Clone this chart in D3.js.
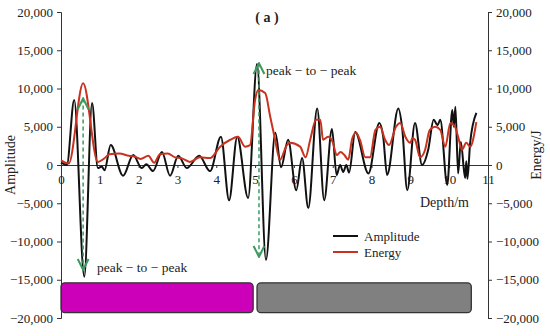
<!DOCTYPE html>
<html>
<head>
<meta charset="utf-8">
<script src="https://cdn.jsdelivr.net/npm/d3@7"></script>
<style>
  body { margin: 0; background: #fff; }
  svg text { font-family: "Liberation Serif", "DejaVu Serif", serif; fill: #222; }
</style>
</head>
<body>
<svg width="550" height="336"></svg>
<script>
// depth (m) and amplitude
var ampDepth = [0, 0.15, 0.34, 0.6, 0.8, 0.95, 1.05, 1.12, 1.28, 1.6, 1.86, 2.08, 2.2, 2.37, 2.6, 2.81, 3.02, 3.24, 3.56, 3.84,
  4.12, 4.33, 4.54, 4.82, 5.05, 5.28, 5.52, 5.67, 5.85, 6.06, 6.21, 6.37, 6.6, 6.78, 6.98, 7.1, 7.19, 7.27, 7.35, 7.42,
  7.58, 7.92, 8.2, 8.3, 8.4, 8.69, 8.79, 8.92, 9.12, 9.3, 9.46, 9.6, 9.7, 9.77, 9.95, 10.08, 10.12, 10.16, 10.23, 10.3,
  10.41, 10.44, 10.47, 10.54, 10.7];
var amplitude = [300, 0, 8500, -14600, 8100, -400, -200, -700, 2600, -1400, 1300, -400, 100, -800, 1700, -1400, 1200, -400, 1200, -800,
  3700, -4600, 3700, -4300, 13200, -12400, 4200, -300, 3300, -3300, 900, -5600, 7400, -4600, 4700, -1300, 0, -900, 0, -1000,
  4300, -1100, 5500, 3700, -1300, 7400, 4800, -3300, 5500, 0, 2000, 5900, 5200, 5900, -2600, 7200, 5000, 7600, -1100, 3000,
  -1700, 500, -1800, 2900, 6800];

var energyDepth = [0, 0.2, 0.57, 0.95, 1.1, 1.25, 1.5, 1.75, 1.9, 2.05, 2.25, 2.4, 2.55, 2.75, 2.94, 3.1, 3.32, 3.58, 3.84,
  4.1, 4.36, 4.56, 4.74, 4.87, 5.0, 5.08, 5.26, 5.39, 5.5, 5.64, 5.82, 5.9, 6.16, 6.3, 6.42, 6.57, 6.68, 6.75, 6.88, 7.0,
  7.1, 7.2, 7.3, 7.4, 7.5, 7.6, 7.7, 7.84, 7.96, 8.1, 8.22, 8.35, 8.45, 8.63, 8.74, 8.87, 9.0, 9.05, 9.12, 9.25, 9.38,
  9.5, 9.64, 9.77, 9.9, 10.03, 10.15, 10.23, 10.33, 10.44, 10.54, 10.7];
var energy = [600, 200, 10700, 400, 800, 1400, 1500, 1200, 1100, 800, 1200, 300, 1400, 1500, 1000, 900, 400, 1000, 900,
  2400, 3300, 3700, 2400, 2600, 8500, 9800, 9400, 6300, 3700, 700, 2600, 2900, 2400, 1000, 3300, 5900, 5900, 3300, 3700, 3000,
  1300, 1700, 1300, 700, 3400, 4200, 3300, 1000, 1000, 4600, 5000, 3300, 2600, 5000, 5500, 3700, 2900, 3500, 3300, 1000, 2000,
  4600, 5000, 4600, 2400, 5500, 5000, 3700, 2000, 2900, 2400, 5600];

var xTicks = [0, 1, 2, 3, 4, 5, 6, 7, 8, 9, 10, 11];
var yTicks = [-20000, -15000, -10000, -5000, 0, 5000, 10000, 15000, 20000];

// peak-to-peak arrows: depth, top, bottom
var arrowDepth = [0.57, 5.1];
var arrowTop = [8700, 13300];
var arrowBottom = [-13700, -12000];

// bottom strata bars
var barStart = [0, 5.05];
var barEnd = [4.95, 10.57];
var barColor = ["#cc00b8", "#808080"];
var barTop = -15400, barBottom = -19300;

var svg = d3.select("svg");
var x = d3.scaleLinear().domain([0, 11]).range([61, 488]);
var y = d3.scaleLinear().domain([-20000, 20000]).range([318, 12]);

svg.append("defs").append("marker")
  .attr("id", "ah").attr("viewBox", "0 0 10 10").attr("refX", 9).attr("refY", 5)
  .attr("markerWidth", 9).attr("markerHeight", 9).attr("orient", "auto-start-reverse")
  .append("path").attr("d", "M1,1 L9,5 L1,9").attr("fill", "none")
  .attr("stroke", "#3c9a5f").attr("stroke-width", 1.5);

// bars
svg.selectAll("rect.bar").data(barStart).enter().append("rect")
  .attr("class", "bar")
  .attr("x", function(d) { return x(d) })
  .attr("y", y(barTop))
  .attr("width", function(d, i) { return x(barEnd[i]) - x(d) })
  .attr("height", y(barBottom) - y(barTop))
  .attr("rx", 4)
  .style("fill", function(d, i) { return barColor[i] })
  .style("stroke", "#333").style("stroke-width", 1.3);

// axes
var fmt = d3.format(",");
var left = svg.append("g").attr("transform", "translate(61,0)")
  .call(d3.axisLeft(y).tickValues(yTicks).tickFormat(fmt).tickSizeOuter(0).tickSize(4).tickPadding(4));
var right = svg.append("g").attr("transform", "translate(488,0)")
  .call(d3.axisRight(y).tickValues(yTicks).tickFormat(fmt).tickSizeOuter(0).tickSize(4).tickPadding(4));
var bottom = svg.append("g").attr("transform", "translate(0," + y(0) + ")")
  .call(d3.axisBottom(x).tickValues(xTicks).tickSizeOuter(0).tickSize(3).tickPadding(7));

[left, right, bottom].forEach(function(g) {
  g.selectAll("text").style("font-size", "13px").style("font-family", "Liberation Serif");
  g.select(".domain").attr("stroke", "#333");
  g.selectAll(".tick line").attr("stroke", "#333");
});

// lines
var lineA = d3.line().x(function(d) { return x(ampDepth[d]) }).y(function(d) { return y(amplitude[d]) }).curve(d3.curveMonotoneX);
var lineE = d3.line().x(function(d) { return x(energyDepth[d]) }).y(function(d) { return y(energy[d]) }).curve(d3.curveMonotoneX);

svg.append("path").datum(d3.range(ampDepth.length)).attr("d", lineA)
  .attr("fill", "none").attr("stroke", "#111").attr("stroke-width", 2);
svg.append("path").datum(d3.range(energyDepth.length)).attr("d", lineE)
  .attr("fill", "none").attr("stroke", "#c8321e").attr("stroke-width", 2);

// arrows
svg.selectAll("line.arrow").data(arrowDepth).enter().append("line")
  .attr("class", "arrow")
  .attr("x1", function(d) { return x(d) }).attr("x2", function(d) { return x(d) })
  .attr("y1", function(d, i) { return y(arrowTop[i]) })
  .attr("y2", function(d, i) { return y(arrowBottom[i]) })
  .attr("stroke", "#3c9a5f").attr("stroke-width", 1.5).attr("stroke-dasharray", "4,3")
  .attr("marker-start", "url(#ah)").attr("marker-end", "url(#ah)");

svg.append("text").attr("x", 97).attr("y", 272).style("font-size", "13.5px").text("peak − to − peak");
svg.append("text").attr("x", 266).attr("y", 75).style("font-size", "13.5px").text("peak − to − peak");

// titles
svg.append("text").attr("x", 267).attr("y", 22).attr("text-anchor", "middle")
  .style("font-size", "14px").style("font-weight", "bold").text("( a )");
svg.append("text").attr("x", 420).attr("y", 207).style("font-size", "14px").text("Depth/m");
svg.append("text").attr("transform", "translate(15,165) rotate(-90)").attr("text-anchor", "middle")
  .style("font-size", "14px").text("Amplitude");
svg.append("text").attr("transform", "translate(541,155) rotate(-90)").attr("text-anchor", "middle")
  .style("font-size", "14px").text("Energy/J");

// legend
var legNames = ["Amplitude", "Energy"];
var legColors = ["#111", "#c8321e"];
var leg = svg.selectAll("g.leg").data(legNames).enter().append("g")
  .attr("class", "leg")
  .attr("transform", function(d, i) { return "translate(333," + (236 + i * 16) + ")" });
leg.append("line").attr("x1", 0).attr("x2", 25)
  .attr("stroke", function(d, i) { return legColors[i] }).attr("stroke-width", 2);
leg.append("text").attr("x", 31).attr("y", 4.5).style("font-size", "13px").text(function(d) { return d });
</script>
</body>
</html>
